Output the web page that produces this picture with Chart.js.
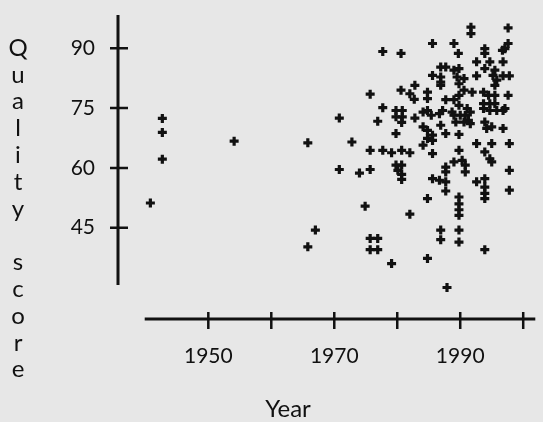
<!DOCTYPE html>
<html>
<head>
<meta charset="utf-8">
<script src="https://cdn.jsdelivr.net/npm/chart.js@4/dist/chart.umd.min.js"></script>
<style>
  html, body { margin: 0; padding: 0; background: #e7e7e7; }
  #wrap { width: 543px; height: 422px; position: relative; }
</style>
</head>
<body>
<div id="wrap"><canvas id="chart"></canvas></div>
<script>
/* Scatter: quality score by year. */
var years = [
  1940.8, 1942.7, 1942.7, 1942.7, 1954.1, 1965.8, 1965.8, 1967.0, 1970.8, 1970.8,
  1972.8, 1974.0, 1974.9, 1975.7, 1975.7, 1975.7, 1975.7, 1976.9, 1975.7, 1976.9,
  1976.9, 1977.7, 1977.7, 1977.7, 1979.1, 1979.1, 1979.8, 1980.8, 1979.8, 1980.8,
  1980.7, 1979.8, 1980.6, 1980.6, 1982.0, 1982.7, 1982.8, 1982.8, 1980.7, 1982.0,
  1979.8, 1980.7, 1980.1, 1980.7, 1980.7, 1982.0, 1984.1, 1984.8, 1984.8, 1984.8,
  1985.4, 1985.6, 1985.6, 1984.1, 1984.8, 1985.6, 1984.8, 1985.6, 1984.1, 1985.6,
  1985.6, 1986.7, 1984.8, 1984.8, 1986.7, 1986.9, 1987.7, 1986.9, 1986.9, 1986.9,
  1987.2, 1987.7, 1986.9, 1987.7, 1987.7, 1987.7, 1987.7, 1987.7, 1986.9, 1986.9,
  1987.9, 1989.0, 1989.0, 1989.8, 1989.5, 1989.8, 1990.6, 1989.7, 1989.0, 1989.8,
  1989.8, 1990.6, 1988.7, 1989.0, 1990.0, 1990.8, 1989.3, 1990.6, 1989.8, 1989.8,
  1989.0, 1990.3, 1990.8, 1990.8, 1989.8, 1989.8, 1989.8, 1989.8, 1989.8, 1989.8,
  1991.7, 1991.7, 1991.1, 1991.6, 1991.3, 1991.6, 1991.9, 1992.6, 1992.6, 1993.9,
  1993.9, 1993.9, 1994.7, 1995.5, 1995.2, 1995.8, 1995.5, 1993.7, 1994.5, 1995.5,
  1993.7, 1994.7, 1995.5, 1993.7, 1994.7, 1995.8, 1996.8, 1993.9, 1994.2, 1995.0,
  1996.8, 1992.6, 1995.0, 1997.8, 1993.9, 1994.7, 1995.0, 1992.6, 1993.9, 1993.9,
  1993.9, 1993.9, 1997.8, 1997.8, 1993.9, 1997.6, 1997.6, 1997.1, 1996.7, 1996.8,
  1996.8, 1997.8, 1997.6, 1997.1
];
var scores = [
  51.2, 72.4, 68.9, 62.2, 66.7, 66.3, 40.2, 44.4, 72.5, 59.6,
  66.5, 58.7, 50.4, 78.5, 64.4, 59.6, 42.3, 42.3, 39.5, 39.5,
  71.7, 89.2, 75.1, 64.4, 63.8, 36.0, 74.4, 74.4, 72.8, 72.8,
  71.4, 68.6, 88.7, 79.5, 78.6, 77.2, 80.7, 72.5, 64.4, 63.8,
  60.7, 60.7, 59.4, 58.4, 57.1, 48.4, 74.0, 79.0, 77.4, 74.4,
  73.2, 91.2, 83.2, 70.3, 69.4, 68.2, 67.4, 66.9, 65.7, 63.6,
  57.3, 56.9, 52.3, 37.3, 73.6, 85.3, 85.3, 82.8, 81.5, 80.7,
  74.4, 77.1, 70.7, 68.6, 60.2, 59.0, 56.5, 54.2, 44.4, 42.0,
  30.0, 91.2, 84.5, 84.9, 82.8, 81.1, 82.4, 88.7, 77.1, 78.2,
  75.7, 79.5, 74.0, 73.2, 73.2, 73.2, 71.5, 71.5, 68.4, 64.4,
  61.5, 61.9, 60.7, 59.0, 52.7, 51.0, 49.5, 48.1, 44.4, 41.4,
  95.3, 93.7, 74.9, 74.0, 71.9, 71.1, 79.0, 86.6, 83.1, 89.9,
  88.7, 84.9, 86.6, 84.5, 83.2, 82.0, 80.7, 79.0, 78.2, 78.2,
  76.1, 76.1, 76.1, 74.9, 74.4, 74.4, 74.4, 71.5, 69.9, 70.3,
  69.9, 66.1, 66.1, 66.1, 64.0, 62.3, 61.5, 56.5, 57.3, 55.2,
  53.6, 52.3, 59.4, 54.4, 39.5, 95.1, 91.2, 89.9, 89.5, 86.6,
  83.1, 83.1, 78.2, 74.9
];
var yTicks = [45, 60, 75, 90];
var xTicks = [1950, 1960, 1970, 1980, 1990, 2000];
var xLabels = [1950, 1970, 1990];
var xRange = [1935.66, 2001.92];
var yRange = [22.1, 98.35];
var yAxisFrom = 30.6;    // y axis line stops here
var xAxisFrom = 1939.9;  // x axis line starts here
var xTitle = 'Year';
var yTitle = 'Quality score';

var INK = '#111';
var FONT = 'Lato, sans-serif';

var points = years.map(function (y, i) { return { x: y, y: scores[i] }; });

// Detached axis lines, crossing tick marks and the stacked y title.
var axesPlugin = {
  id: 'rangeAxes',
  afterDraw: function (chart) {
    var ctx = chart.ctx;
    var xs = chart.scales.x, ys = chart.scales.y;
    var a = chart.chartArea;
    ctx.save();
    ctx.strokeStyle = INK;
    ctx.lineCap = 'butt';

    ctx.lineWidth = 3;
    ctx.beginPath();
    ctx.moveTo(a.left, a.top);
    ctx.lineTo(a.left, ys.getPixelForValue(yAxisFrom));
    ctx.moveTo(xs.getPixelForValue(xAxisFrom), a.bottom);
    ctx.lineTo(a.right, a.bottom);
    ctx.stroke();

    ctx.lineWidth = 2.5;
    ctx.beginPath();
    yTicks.forEach(function (v) {
      var y = ys.getPixelForValue(v);
      ctx.moveTo(a.left - 8, y);
      ctx.lineTo(a.left + 10, y);
    });
    xTicks.forEach(function (v) {
      var x = xs.getPixelForValue(v);
      ctx.moveTo(x, a.bottom - 7);
      ctx.lineTo(x, a.bottom + 10);
    });
    ctx.stroke();

    ctx.fillStyle = INK;
    ctx.font = '24px ' + FONT;
    ctx.textAlign = 'center';
    ctx.textBaseline = 'middle';
    yTitle.split('').forEach(function (ch, i) {
      if (ch !== ' ') { ctx.fillText(ch, 18, 48 + i * 26.8); }
    });
    ctx.fillText(xTitle, 288, 409);
    ctx.restore();
  }
};

function noPad(s) {
  s.paddingTop = 0; s.paddingBottom = 0; s.paddingLeft = 0; s.paddingRight = 0;
}

new Chart(document.getElementById('chart'), {
  type: 'scatter',
  data: {
    datasets: [{
      data: points,
      pointStyle: 'cross',
      pointRadius: 4.5,
      pointBorderWidth: 3.2,
      borderColor: INK,
      backgroundColor: INK,
      clip: false
    }]
  },
  options: {
    responsive: true,
    maintainAspectRatio: false,
    animation: false,
    layout: { padding: { top: 15, right: 0, left: 0, bottom: 0 } },
    plugins: { legend: { display: false }, tooltip: { enabled: false } },
    scales: {
      x: {
        type: 'linear',
        min: xRange[0],
        max: xRange[1],
        afterBuildTicks: function (s) { s.ticks = xLabels.map(function (v) { return { value: v }; }); },
        afterFit: function (s) { s.height = 103; noPad(s); },
        grid: { display: false, drawTicks: false },
        border: { display: false },
        ticks: { color: INK, font: { family: FONT, size: 21 }, padding: 25, maxRotation: 0,
                 callback: function (v) { return String(v); } }
      },
      y: {
        type: 'linear',
        min: yRange[0],
        max: yRange[1],
        afterBuildTicks: function (s) { s.ticks = yTicks.map(function (v) { return { value: v }; }); },
        afterFit: function (s) { s.width = 118; noPad(s); },
        grid: { display: false, drawTicks: false },
        border: { display: false },
        ticks: { color: INK, font: { family: FONT, size: 21 }, padding: 23 }
      }
    }
  },
  plugins: [axesPlugin]
});
</script>
</body>
</html>
